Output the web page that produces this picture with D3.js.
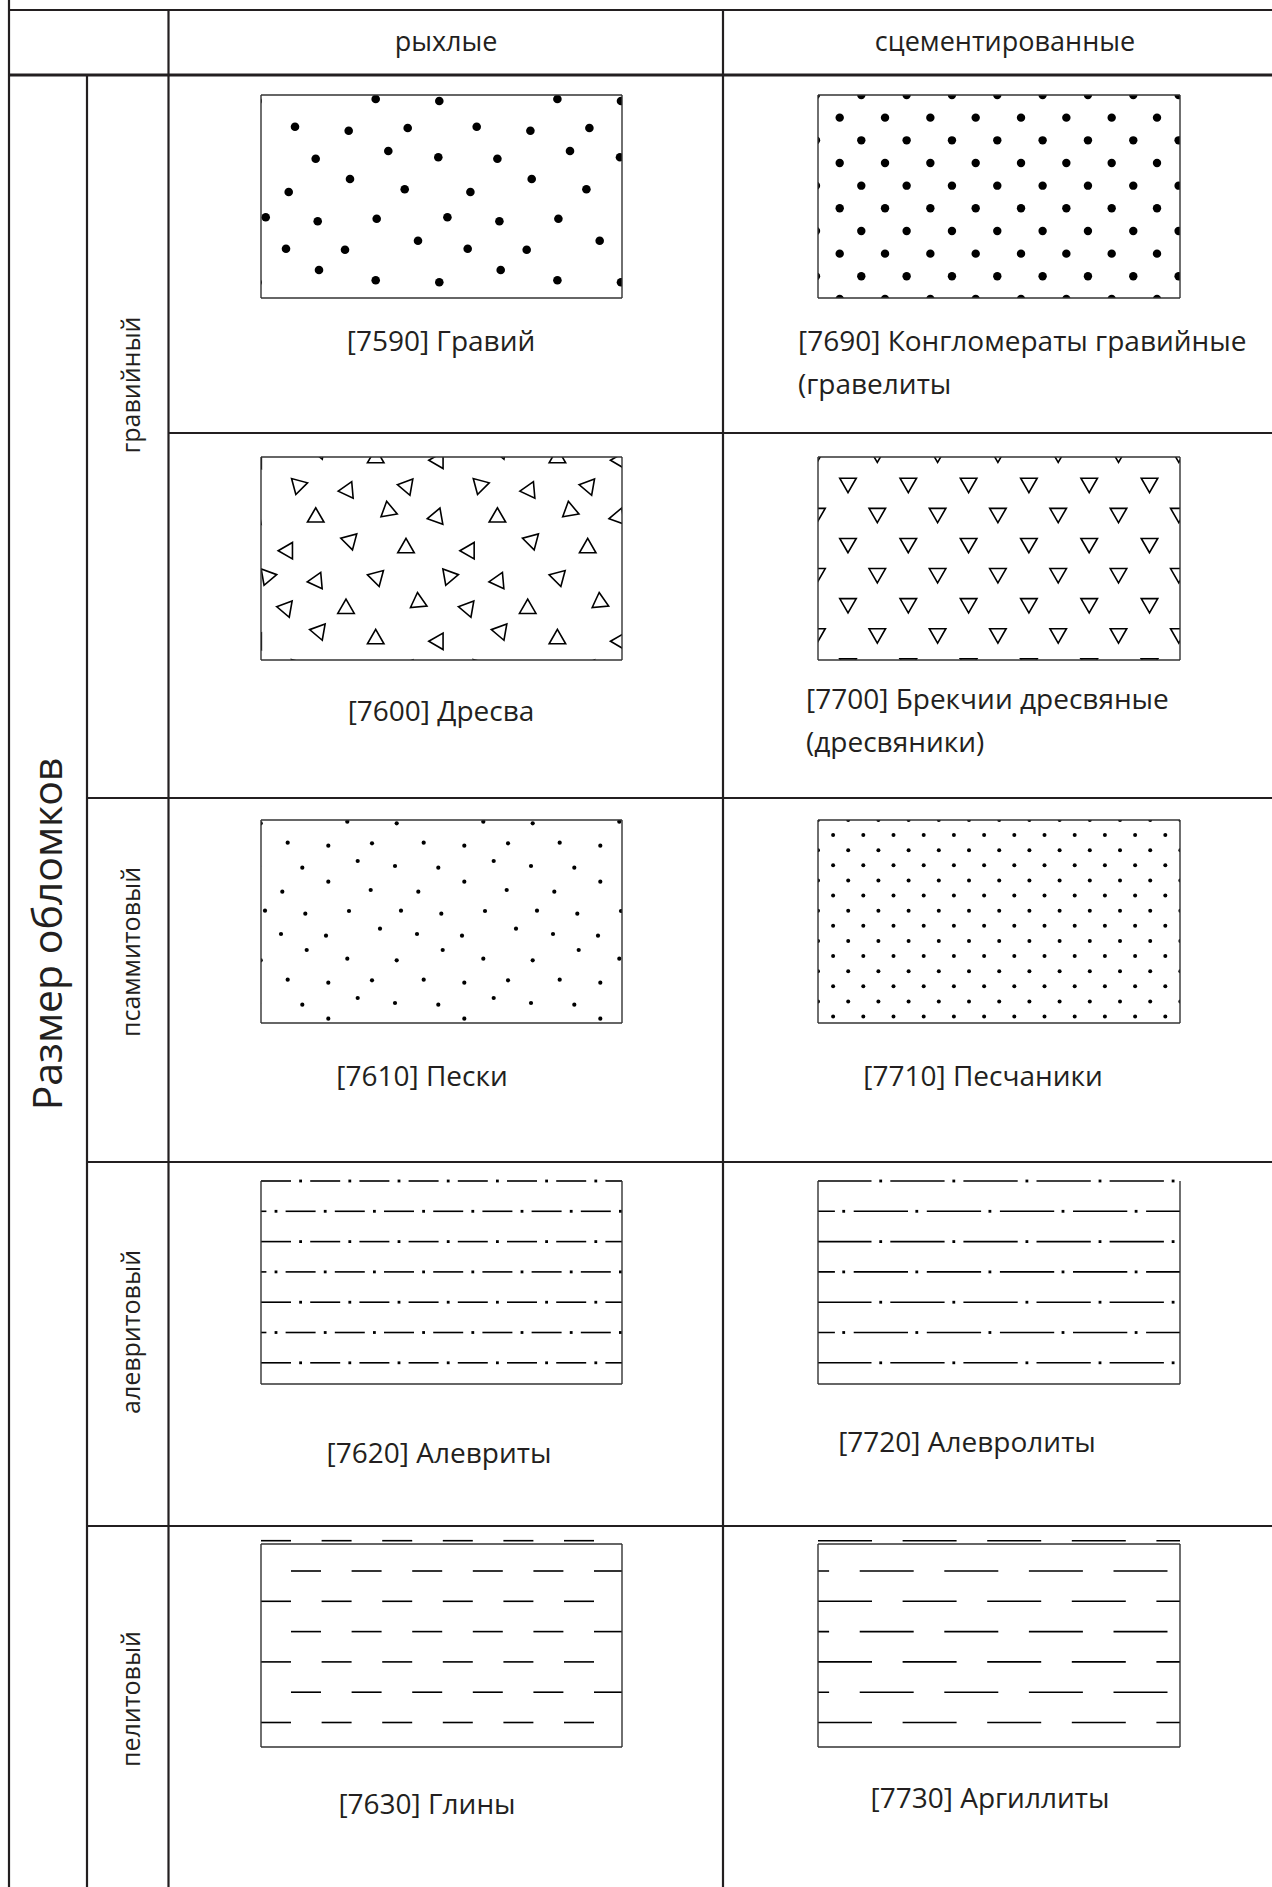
<!DOCTYPE html>
<html><head><meta charset="utf-8">
<script src="https://cdn.jsdelivr.net/npm/d3@7"></script>
<style>html,body{margin:0;padding:0;background:#fff;} svg{display:block;}</style>
</head><body>
<script>
// ---------------- data ----------------
const columnHeaders = ["рыхлые", "сцементированные"];
const sizeGroupTitle = "Размер обломков";
const sizeClasses = ["гравийный", "псаммитовый", "алевритовый", "пелитовый"];
const looseLabels = [["[7590] Гравий"], ["[7600] Дресва"], ["[7610] Пески"], ["[7620] Алевриты"], ["[7630] Глины"]];
const cementedLabels = [["[7690] Конгломераты гравийные", "(гравелиты"], ["[7700] Брекчии дресвяные", "(дресвяники)"], ["[7710] Песчаники"], ["[7720] Алевролиты"], ["[7730] Аргиллиты"]];
const patternCodes = [[7590, 7690], [7600, 7700], [7610, 7710], [7620, 7720], [7630, 7730]];

// one repeat tile of each lithology pattern (tile-relative units)
const gravelDots = [[114.7,4],[178.3,6],[34,31.7],[87.7,35.7],[146.7,33],[54.7,63.7],[127.3,56],[177.3,62.3],[89,84],[27.7,97],[143.7,94.3],[4.7,122.3],[56.7,126.3],[115.7,123.7],[25,153.7],[84,154.7],[157,145.7],[58,175]];
const conglomerateDots = [[21.7,22.65],[43.3,0]];
const gritTriangles = [[114.7,1,0],[177.3,3.3,-90],[37.3,28.3,75],[86.7,33.3,-95],[145.7,29.3,-80],[54.7,60.3,0],[127.3,53.7,-10],[175.7,60,-100],[89,83.7,165],[26.7,93.7,-90],[145,91,0],[6.3,119.3,80],[55.7,124,-95],[115.7,120.3,-75],[25,151.3,-80],[85,151.7,0],[157.3,145,-5],[58,174.3,160]];
const brecciaTriangles = [[30,26,180],[59.3,-4.1,180]];
const sandDots = [[86.3,1.7],[135.7,3.3],[26.7,22.7],[67.3,25.7],[111,23.3],[96.7,41],[41.3,47.7],[134,46],[67.3,61.7],[21.3,71.7],[109.7,70],[4,90.7],[44.3,93.7],[88,91],[20,114],[65,115.7],[119,108.7],[45.7,130]];
const sandstoneDots = [[0,0],[15.1,15.1]];
const siltLines = [[0,0,30,39.6],[30.3,24.6,54.6,64.2]];          // y, dash start, dash end, dot
const siltstoneLines = [[0,-0.8,53.5,62.7],[30.3,35.7,90,98.8]];
const clayLines = [[-3.3,0,30],[27,30,60]];                       // y, dash start, dash end
const argilliteLines = [[-3.3,0,54],[27,41.7,95.7]];

// ---------------- setup ----------------
const W = 1272, H = 1887;
const ink = "#231f20";
const font = "'Open Sans', 'Noto Sans', sans-serif";

const patterns = {
  7590: {tw:181.7, th:181.3, kind:"dot", r:4.3, items: gravelDots},
  7690: {tw:45.33, th:45.33, kind:"dot", r:4.2, items: conglomerateDots},
  7600: {tw:181.7, th:181.0, kind:"tri", s:16.5, items: gritTriangles},
  7700: {tw:60.3, th:60.2, kind:"tri", s:16.5, items: brecciaTriangles},
  7610: {tw:136, th:137, kind:"dot", r:2.1, items: sandDots},
  7710: {tw:30.2, th:30.25, kind:"dot", r:2.0, items: sandstoneDots},
  7620: {tw:49.2, th:60.6, kind:"dashdot", items: siltLines, noTop:true, clipTop:-3},
  7720: {tw:73.1, th:60.6, kind:"dashdot", items: siltstoneLines, noTop:true, clipTop:-3},
  7630: {tw:60.6, th:60.6, kind:"dash", items: clayLines, clipTop:-8},
  7730: {tw:84.6, th:60.6, kind:"dash", items: argilliteLines, clipTop:-8}
};

const svg = d3.select("body").append("svg").attr("width", W).attr("height", H)
  .attr("viewBox", `0 0 ${W} ${H}`);
const defs = svg.append("defs");

// table grid
const grid = svg.append("g").attr("stroke", ink).attr("fill", "none");
grid.append("line").attr("x1", 9).attr("x2", W).attr("y1", 10).attr("y2", 10).attr("stroke-width", 2.2);
grid.append("line").attr("x1", 9).attr("x2", W).attr("y1", 75).attr("y2", 75).attr("stroke-width", 3.2);
grid.append("line").attr("x1", 9).attr("x2", 9).attr("y1", 0).attr("y2", H).attr("stroke-width", 2.2);
grid.append("line").attr("x1", 87).attr("x2", 87).attr("y1", 75).attr("y2", H).attr("stroke-width", 2.2);
grid.append("line").attr("x1", 168.5).attr("x2", 168.5).attr("y1", 10).attr("y2", H).attr("stroke-width", 2.2);
grid.append("line").attr("x1", 723).attr("x2", 723).attr("y1", 10).attr("y2", H).attr("stroke-width", 2.2);
grid.append("line").attr("x1", 168.5).attr("x2", W).attr("y1", 433).attr("y2", 433).attr("stroke-width", 2.2);
[798, 1162, 1526].forEach(y => grid.append("line").attr("x1", 87).attr("x2", W).attr("y1", y).attr("y2", y).attr("stroke-width", 2.2));

// headers
const txt = svg.append("g").attr("fill", ink).attr("font-family", font);
txt.append("text").attr("x", 446).attr("y", 51).attr("text-anchor", "middle").attr("font-size", 27).text(columnHeaders[0]);
txt.append("text").attr("x", 1005).attr("y", 51).attr("text-anchor", "middle").attr("font-size", 27).text(columnHeaders[1]);
txt.append("text").attr("transform", "translate(62,934) rotate(-90)").attr("text-anchor", "middle").attr("font-size", 41).text(sizeGroupTitle);
const vCenters = [385, 952, 1332, 1699];
sizeClasses.forEach((s, i) => txt.append("text").attr("transform", `translate(140,${vCenters[i]}) rotate(-90)`)
  .attr("text-anchor", "middle").attr("font-size", 25).text(s));

// pattern boxes
const boxX = [261, 818], boxW = [361, 362], boxTop = [95, 457, 820, 1181, 1544], boxH = 203;
function tri(s) {
  const R = s / Math.sqrt(3);
  return `M0,${-R}L${s/2},${R/2}L${-s/2},${R/2}Z`;
}
function drawBox(code, bx, by, bw, bh, id) {
  const p = patterns[code];
  const xs = d3.scaleLinear().domain([0, bw]).range([bx, bx + bw]);
  const ys = d3.scaleLinear().domain([0, bh]).range([by, by + bh]);
  const ct = p.clipTop || 0;
  defs.append("clipPath").attr("id", id).append("rect")
    .attr("x", xs(0)).attr("y", ys(ct)).attr("width", bw).attr("height", bh - ct);
  const g = svg.append("g").attr("clip-path", `url(#${id})`);
  const inst = [];
  for (let j = -2; j * p.th < bh + p.th; j++)
    for (let i = -2; i * p.tw < bw + p.tw; i++)
      p.items.forEach(m => inst.push({m, dx: i * p.tw, dy: j * p.th}));
  if (p.kind === "dot") {
    g.selectAll("circle").data(inst.filter(d => d.m[0]+d.dx > -8 && d.m[0]+d.dx < bw+8 && d.m[1]+d.dy > -8 && d.m[1]+d.dy < bh+8))
      .join("circle").attr("cx", d => xs(d.m[0] + d.dx)).attr("cy", d => ys(d.m[1] + d.dy)).attr("r", p.r).attr("fill", "#000");
  } else if (p.kind === "tri") {
    g.selectAll("path").data(inst.filter(d => d.m[0]+d.dx > -12 && d.m[0]+d.dx < bw+12 && d.m[1]+d.dy > -12 && d.m[1]+d.dy < bh+12))
      .join("path").attr("d", tri(p.s))
      .attr("transform", d => `translate(${xs(d.m[0] + d.dx)},${ys(d.m[1] + d.dy)}) rotate(${d.m[2]})`)
      .attr("fill", "none").attr("stroke", "#000").attr("stroke-width", 1.6).attr("stroke-linejoin", "miter");
  } else {
    const ok = inst.filter(d => d.m[0]+d.dy >= ct - 1 && d.m[0]+d.dy < bh && d.m[2]+d.dx > -5 && d.m[1]+d.dx < bw + 5);
    g.selectAll("line").data(ok).join("line")
      .attr("x1", d => xs(d.m[1] + d.dx)).attr("x2", d => xs(d.m[2] + d.dx))
      .attr("y1", d => ys(d.m[0] + d.dy)).attr("y2", d => ys(d.m[0] + d.dy))
      .attr("stroke", "#000").attr("stroke-width", 1.6);
    if (p.kind === "dashdot") {
      g.selectAll("rect.dot").data(ok).join("rect").attr("class", "dot")
        .attr("x", d => xs(d.m[3] + d.dx) - 1.4).attr("y", d => ys(d.m[0] + d.dy) - 1.4)
        .attr("width", 2.8).attr("height", 2.8).attr("fill", "#000");
    }
  }
  const b = svg.append("g").attr("stroke", "#333").attr("stroke-width", 1.4).attr("fill", "none");
  b.append("line").attr("x1", xs(0)).attr("x2", xs(0)).attr("y1", ys(0)).attr("y2", ys(bh));
  b.append("line").attr("x1", xs(bw)).attr("x2", xs(bw)).attr("y1", ys(0)).attr("y2", ys(bh));
  b.append("line").attr("x1", xs(0)).attr("x2", xs(bw)).attr("y1", ys(bh)).attr("y2", ys(bh));
  if (!p.noTop) b.append("line").attr("x1", xs(0)).attr("x2", xs(bw)).attr("y1", ys(0)).attr("y2", ys(0));
}
patternCodes.forEach((pair, r) => pair.forEach((code, c) =>
  drawBox(code, boxX[c], boxTop[r], boxW[c], boxH, `clip${code}`)));

// labels under boxes
const labelSize = 28;
const looseY = [351, 721, 1086, 1463, 1814];
const looseX = [441, 441, 422, 439, 427];
looseLabels.forEach((lines, r) => lines.forEach((t, k) =>
  txt.append("text").attr("x", looseX[r]).attr("y", looseY[r] + k * 43).attr("text-anchor", "middle").attr("font-size", labelSize).text(t)));
const cemY = [351, 709, 1086, 1452, 1808];
const cemX = [798, 806, 983, 967, 990];
const cemAnchor = ["start", "start", "middle", "middle", "middle"];
cementedLabels.forEach((lines, r) => lines.forEach((t, k) =>
  txt.append("text").attr("x", cemX[r]).attr("y", cemY[r] + k * 43).attr("text-anchor", cemAnchor[r]).attr("font-size", labelSize).text(t)));
</script>
</body></html>
